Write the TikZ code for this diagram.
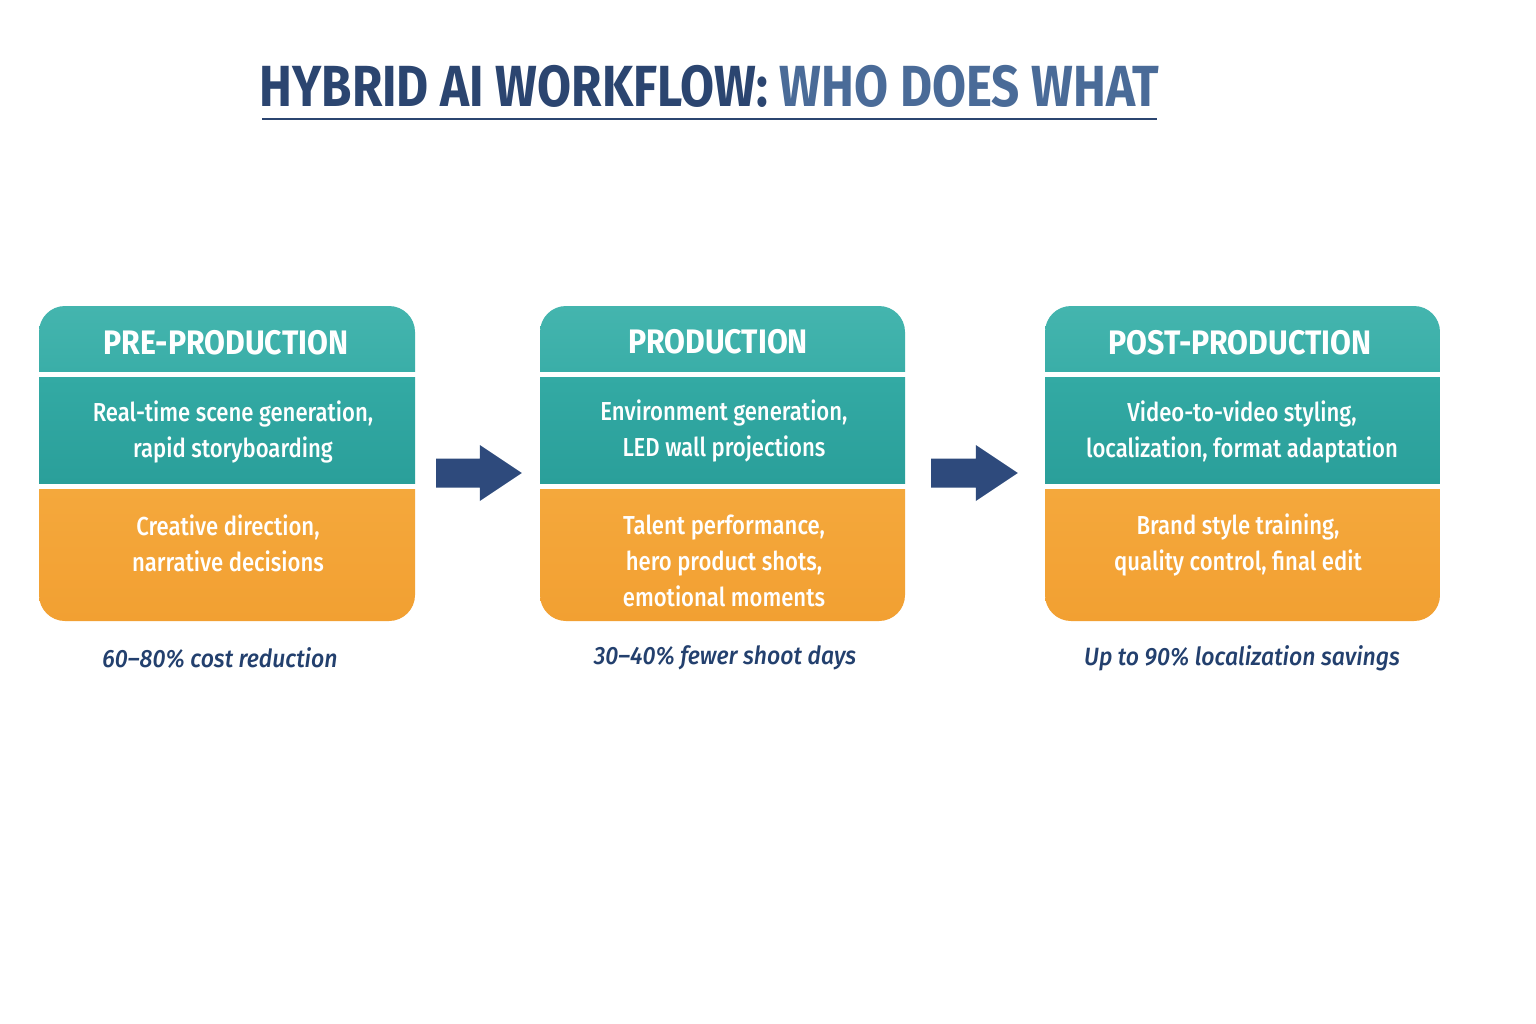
\documentclass[tikz,border=0pt]{standalone}
\usepackage{fontspec}
\setmainfont{Fira Sans}[FakeStretch=0.85]
\newfontfamily\hdrfont{Fira Sans}[FakeStretch=0.89]
\IfFontExistsTF{Fira Sans Medium}{%
  \newfontfamily\medfont{Fira Sans Medium}[FakeStretch=0.85]%
  \newfontfamily\footfont{Fira Sans Medium}[FakeStretch=0.92]}{%
  \newfontfamily\medfont{Fira Sans}[FakeStretch=0.85]%
  \newfontfamily\footfont{Fira Sans}[FakeStretch=0.92]}
\usetikzlibrary{calc,fit}
\definecolor{navy}{HTML}{2B4570}
\definecolor{navylt}{HTML}{4A6B98}
\definecolor{arrowblue}{HTML}{2E4A7C}
\definecolor{hdrA}{HTML}{44B5AE}
\definecolor{hdrB}{HTML}{3AAEA8}
\definecolor{midA}{HTML}{33AAA4}
\definecolor{midB}{HTML}{2A9F9A}
\definecolor{orgA}{HTML}{F4A83C}
\definecolor{orgB}{HTML}{F2A032}
\definecolor{footc}{HTML}{23406E}
\tikzset{
  hdrtext/.style={text=white,font=\hdrfont\bfseries\fontsize{34}{38}\selectfont,inner sep=0},
  bodytext/.style={text=white,font=\medfont\fontsize{26}{36}\selectfont,align=center,inner sep=0},
  foottext/.style={text=footc,font=\footfont\itshape\fontsize{25}{30}\selectfont,inner sep=0},
  arr/.style={fill=arrowblue}
}
\newcommand\stagepanel[3]{%
  \begin{scope}
    \clip[rounded corners=26pt] (#2,306) rectangle (#3,621);
    \shade[top color=hdrA,bottom color=hdrB] (#2,306) rectangle (#3,371);
    \shade[top color=midA,bottom color=midB] (#2,377) rectangle (#3,483);
    \shade[top color=orgA,bottom color=orgB] (#2,489) rectangle (#3,621);
  \end{scope}
  \path (#2,306) coordinate (#1nw) (#3,621) coordinate (#1se);
  \node[inner sep=0,fit=(#1nw)(#1se)] (#1) {};
}
\newcommand\blockarrow[5]{% name, from, to, gapfrom, gapto
  \path ($(#2.east)+(#4,9.5)$) coordinate (#1s) ($(#3.west)+(-#5,9.5)$) coordinate (#1e);
  \fill[arr] ($(#1s)+(0,-14.5)$) -- ($(#1e)+(-42,-14.5)$) -- ($(#1e)+(-42,-28)$) -- (#1e)
    -- ($(#1e)+(-42,28)$) -- ($(#1e)+(-42,14.5)$) -- ($(#1s)+(0,14.5)$) -- cycle;
}
\begin{document}
\begin{tikzpicture}[x=1pt,y=-1pt]
\useasboundingbox (0,0) rectangle (1536,1024);
\fill[white] (0,0) rectangle (1536,1024);

% title
\node[anchor=base,inner sep=0,font=\bfseries\fontsize{58}{62}\selectfont] (title) at (709.5,107)
  {\textcolor{navy}{HYBRID AI WORKFLOW:} \textcolor{navylt}{WHO DOES WHAT}};
\draw[navy,line width=2.5pt] (262,119) -- (1157,119);

% panels
\stagepanel{b1}{39}{415}
\stagepanel{b2}{540}{905}
\stagepanel{b3}{1045}{1440}

\node[hdrtext] (h1) at (226,343) {PRE-PRODUCTION};
\node[hdrtext] (h2) at (718,342) {PRODUCTION};
\node[hdrtext] (h3) at (1240,343) {POST-PRODUCTION};

\node[bodytext] (m1) at (233,432) {Real-time scene generation,\\rapid storyboarding};
\node[bodytext] (m2) at (724,430.5) {Environment generation,\\LED wall projections};
\node[bodytext] (m3) at (1242,431.5) {Video-to-video styling,\\localization, format adaptation};

\node[bodytext] (o1) at (228,543.5) {Creative direction,\\narrative decisions};
\node[bodytext] (o2) at (724,560.5) {Talent performance,\\hero product shots,\\emotional moments};
\node[bodytext] (o3) at (1238,544.5) {Brand style training,\\quality control, final edit};

\node[foottext] (f1) at (220,658) {60–80\% cost reduction};
\node[foottext] (f2) at (725,658) {30–40\% fewer shoot days};
\node[foottext] (f3) at (1242,658) {Up to 90\% localization savings};

% arrows
\blockarrow{a1}{b1}{b2}{21}{18}
\blockarrow{a2}{b2}{b3}{26}{27}
\end{tikzpicture}
\end{document}
